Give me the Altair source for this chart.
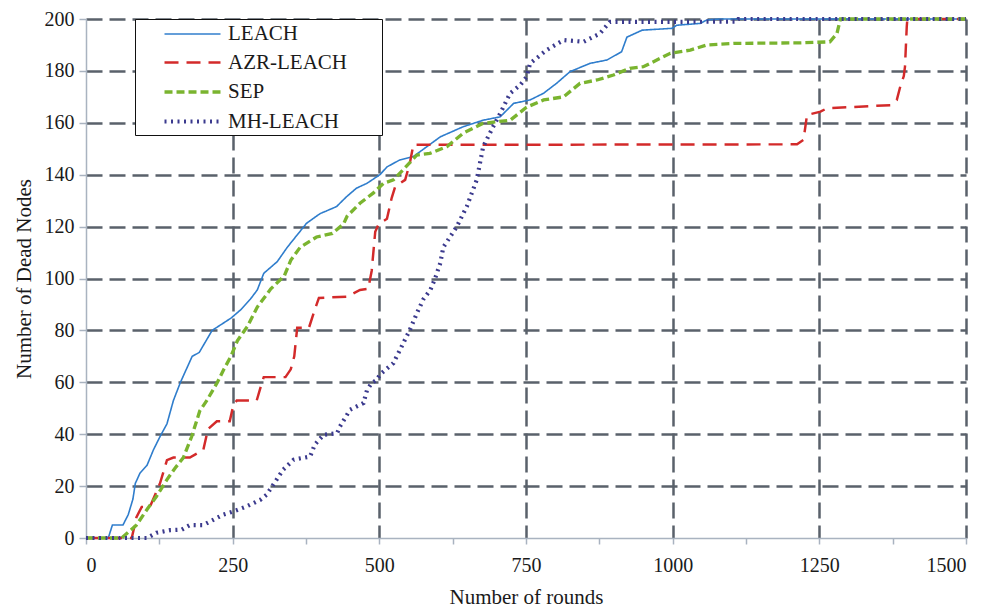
import altair as alt
import pandas as pd

series_names = ["LEACH", "AZR-LEACH", "SEP", "MH-LEACH"]

leach_rounds = [0, 38, 45, 63, 72, 80, 84, 92, 104, 115, 126, 138, 149, 161, 181, 193, 215, 247, 264, 280, 292, 303, 326, 343, 360, 376, 399, 427, 444, 461, 479, 501, 513, 535, 558, 581, 604, 643, 677, 706, 729, 757, 780, 802, 825, 859, 888, 913, 922, 948, 999, 1007, 1047, 1058, 1080, 1500]
leach_dead = [0, 0, 5, 5, 9, 15, 21, 25, 28, 34, 39, 44, 53, 60, 70, 71.5, 80, 84.7, 88, 92, 95.6, 102, 106.5, 112, 116.8, 121.3, 125, 127.7, 131.5, 134.8, 136.7, 140, 143, 145.7, 147, 150.8, 154.6, 158.5, 161, 162.3, 167.5, 168.8, 171.4, 175.2, 179.7, 182.9, 184.2, 187.4, 193, 195.7, 196.4, 197.6, 198.3, 199.6, 200, 200]

azr_rounds = [0, 78, 86, 95, 109, 126, 138, 149, 177, 200, 208, 223, 245, 251, 257, 291, 300, 303, 340, 349, 355, 360, 380, 390, 397, 445, 467, 481, 487, 493, 499, 513, 521, 527, 544, 552, 558, 1212, 1223, 1229, 1252, 1263, 1371, 1382, 1388, 1394, 1396, 1399, 1400, 1500]
azr_dead = [0, 0, 8, 12, 12, 21, 30, 31, 31, 34, 42, 45, 45, 51, 53, 53, 60, 62, 62, 65, 70, 81, 81, 88, 92.5, 93, 95.6, 96, 103, 118, 121, 123, 131, 135.4, 138, 144.4, 151.5, 151.7, 153.4, 163, 164.3, 165.6, 166.8, 168.8, 174, 178, 181.6, 197, 200, 200]

sep_rounds = [0, 61, 86, 104, 120, 138, 152, 166, 180, 194, 206, 224, 235, 247, 258, 275, 292, 315, 338, 349, 365, 393, 420, 439, 445, 467, 490, 507, 524, 541, 564, 586, 615, 643, 677, 723, 751, 780, 814, 842, 871, 899, 927, 950, 973, 996, 1030, 1058, 1104, 1217, 1268, 1280, 1286, 1500]
sep_dead = [0, 0, 5, 11, 16, 22.5, 27, 31, 39, 49, 53, 60, 65, 70, 76, 81.5, 89, 96, 101, 107, 112, 116, 117.4, 121, 124, 129, 133, 136.7, 138, 142, 147.6, 148.2, 150.8, 156, 159.8, 161, 166, 168.8, 170, 175.2, 176.5, 178.4, 181, 181.6, 184.2, 186.8, 188, 190, 190.6, 190.8, 191.2, 194.4, 200, 200]

mh_rounds = [0, 104, 120, 143, 163, 177, 200, 217, 234, 251, 274, 297, 308, 319, 336, 354, 382, 390, 405, 428, 433, 450, 473, 479, 487, 496, 501, 524, 538, 552, 564, 575, 587, 595, 604, 609, 632, 649, 666, 677, 694, 706, 723, 740, 751, 757, 785, 814, 848, 876, 893, 996, 1109, 1112, 1500]
mh_dead = [0, 0, 2, 3, 3.2, 5, 5, 7, 9, 10.2, 12.2, 14.7, 16.7, 20.5, 26.3, 30.2, 31.4, 36, 39.8, 40.4, 43, 49.4, 52, 57, 59.7, 61, 63, 67.4, 73.8, 80.2, 86.6, 92, 95.6, 100, 106, 112, 120, 127.7, 138, 150.8, 158.5, 163.6, 171.4, 174.5, 177.7, 182.9, 188, 191.9, 191.2, 194.4, 198.9, 198.9, 199, 200, 200]

x_ticks = [0, 125, 250, 375, 500, 625, 750, 875, 1000, 1125, 1250, 1375, 1500]
y_ticks = [0, 20, 40, 60, 80, 100, 120, 140, 160, 180, 200]

line_colors = ["#2f7dcc", "#d32a2a", "#7ab42f", "#3b3a8e"]
line_dashes = [[1, 0], [14, 8], [8, 4], [2, 4.5]]
line_widths = [1.6, 4.2, 3.5, 3]

rows = []
for name, xs, ys in [("LEACH", leach_rounds, leach_dead),
                     ("AZR-LEACH", azr_rounds, azr_dead),
                     ("SEP", sep_rounds, sep_dead),
                     ("MH-LEACH", mh_rounds, mh_dead)]:
    for i, (xv, yv) in enumerate(zip(xs, ys)):
        rows.append({"protocol": name, "rounds": xv, "dead": yv, "idx": i})
df = pd.DataFrame(rows)

FONT = "Liberation Serif"
GRID = "#5a616b"

x_axis = alt.Axis(
    values=x_ticks, format="d", title="Number of rounds",
    labelExpr="datum.value % 250 == 0 ? datum.label : ''",
    grid=True, gridColor=GRID, gridWidth=2.5, gridDash=[16, 7],
    gridOpacity={"condition": {"test": "datum.value % 250 == 0 && datum.value > 0", "value": 1}, "value": 0},
    domainColor="#a9b3c0", domainWidth=1.5, tickColor="#a9b3c0", tickWidth=1.5, tickSize=6,
    labelFont=FONT, labelFontSize=20, labelColor="#1a1a1a", labelPadding=11,
    titleFont=FONT, titleFontSize=21, titleFontWeight="normal", titleColor="#1a1a1a", titlePadding=11,
)
y_axis = alt.Axis(
    values=y_ticks, format="d", title="Number of Dead Nodes",
    grid=True, gridColor=GRID, gridWidth=2.5, gridDash=[16, 7],
    gridOpacity={"condition": {"test": "datum.value > 0", "value": 1}, "value": 0},
    domainColor="#a9b3c0", domainWidth=1.5, tickColor="#a9b3c0", tickWidth=1.5, tickSize=7,
    labelFont=FONT, labelFontSize=20, labelColor="#1a1a1a", labelPadding=5,
    titleFont=FONT, titleFontSize=21, titleFontWeight="normal", titleColor="#1a1a1a", titlePadding=10,
)

legend = alt.Legend(
    title=None, orient="none", legendX=49, legendY=0,
    strokeColor="#111", fillColor="white", padding=3,
    symbolType="M-2.545,0H2.545", symbolSize=484, symbolStrokeWidth=3,
    symbolOffset=41, labelOffset=22, rowPadding=6, labelLimit=300,
    labelFont=FONT, labelFontSize=21, labelColor="#1a1a1a",
    labelExpr="datum.label + '\u00a0\u00a0\u00a0\u00a0\u00a0\u00a0\u200b'",
)

chart = alt.Chart(df).mark_line(strokeCap="butt").encode(
    x=alt.X("rounds:Q", scale=alt.Scale(domain=[0, 1500], nice=False), axis=x_axis),
    y=alt.Y("dead:Q", scale=alt.Scale(domain=[0, 200], nice=False), axis=y_axis),
    color=alt.Color("protocol:N", scale=alt.Scale(domain=series_names, range=line_colors),
                    sort=series_names, legend=legend),
    strokeDash=alt.StrokeDash("protocol:N", scale=alt.Scale(domain=series_names, range=line_dashes),
                              sort=series_names, legend=legend),
    strokeWidth=alt.StrokeWidth("protocol:N", scale=alt.Scale(domain=series_names, range=line_widths),
                                legend=None),
    order="idx:Q",
).properties(
    width=880, height=519,
    autosize=alt.AutoSizeParams(type="none"),
    padding={"left": 86, "top": 19, "right": 28, "bottom": 75},
    background="white",
).configure_view(stroke=None)

chart.save("out.html", embed_options={"renderer": "svg", "actions": False})
